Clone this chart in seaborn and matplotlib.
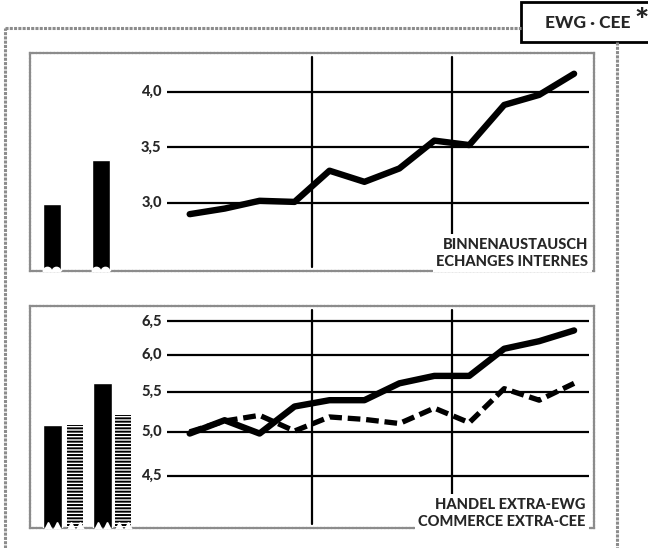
## for data
import numpy as np
import pandas as pd

## for plotting
import matplotlib
matplotlib.use("Agg")
import matplotlib.pyplot as plt
import seaborn as sns
from matplotlib.lines import Line2D
from matplotlib.patches import Rectangle


###############################################################################
## data (12 quarters, two annual bars before them)

quarters = np.arange(12)
internal_q = [2.90, 2.95, 3.02, 3.01, 3.29, 3.19, 3.31, 3.56, 3.52, 3.88, 3.97, 4.16]
internal_years = [2.99, 3.39]

extra_solid_q = [4.98, 5.14, 4.98, 5.31, 5.39, 5.39, 5.61, 5.71, 5.71, 6.09, 6.20, 6.36]
extra_dashed_q = [5.00, 5.13, 5.20, 5.01, 5.18, 5.15, 5.10, 5.29, 5.11, 5.54, 5.39, 5.61]
extra_solid_years = [5.08, 5.62]
extra_hatch_years = [5.08, 5.20]

top_ticks = [3.0, 3.5, 4.0]
bottom_ticks = [4.5, 5.0, 5.5, 6.0, 6.5]

top_title = ["BINNENAUSTAUSCH", "ECHANGES INTERNES"]
bottom_title = ["HANDEL EXTRA-EWG", "COMMERCE EXTRA-CEE"]
badge = "EWG · CEE"


###############################################################################

sns.set_style("white")
plt.rcParams["font.family"] = ["Lato", "DejaVu Sans"]
plt.rcParams["hatch.linewidth"] = 1.4

W, H = 648, 548
fig = plt.figure(figsize=(W / 100, H / 100), dpi=100)

XLIM = (-4.57, 11.57)
GRID_X = (-0.66, 11.43)
FRAME = "#8c8c8c"
WHITE_BOX = dict(facecolor="white", edgecolor="none", pad=2.5)


def fig_box(x0, y0, x1, y1):
    # pixel box (top-left origin) -> figure fraction rect
    return [x0 / W, 1 - y1 / H, (x1 - x0) / W, (y1 - y0) / H]


def style_panel(ax, ticks, ylim, log=False):
    if log:
        ax.set_yscale("log")
    ax.set_xlim(*XLIM)
    ax.set_ylim(*ylim)
    ax.set_xticks([])
    ax.set_yticks([])
    ax.minorticks_off()
    for s in ax.spines.values():
        s.set_visible(True)
        s.set_color(FRAME)
        s.set_linestyle((0, (1, 0.6)))
        s.set_linewidth(1.6)
    ax.hlines(ticks, *GRID_X, color="black", lw=1.6, zorder=1)
    for v in (3.5, 7.5):
        ax.axvline(v, ymin=0.02, ymax=0.98, color="black", lw=1.6, zorder=1)
    for t in ticks:
        ax.text(-0.8, t, f"{t:.1f}".replace(".", ","), ha="right", va="center",
                fontsize=10.5, fontweight="black")


def notches(ax, xs, width, base, marker, size):
    xs = np.asarray(xs)
    nx = np.concatenate([xs - width / 4, xs + width / 4])
    ax.plot(nx, [base] * len(nx), ls="none", marker=marker, ms=size,
            color="white", mec="white", zorder=4, clip_on=True)


def panel_title(ax, lines, y0, step, x=0.99):
    for i, s in enumerate(lines):
        ax.text(x, y0 - i * step, s, transform=ax.transAxes, ha="right",
                va="center", fontsize=10.5, fontweight="black",
                bbox=WHITE_BOX, zorder=5)


## top panel: internal trade
ax1 = fig.add_axes(fig_box(30, 53, 594, 271))
top_lim = (2.39, 4.346)
style_panel(ax1, top_ticks, top_lim)
bar_x = [-3.95, -2.55]
ax1.bar(bar_x, np.array(internal_years) - top_lim[0], bottom=top_lim[0],
        width=0.52, color="black", zorder=3)
notches(ax1, bar_x, 0.52, top_lim[0], "o", 6)
sns.lineplot(x=quarters, y=internal_q, ax=ax1, color="black", lw=4.6, zorder=3)
panel_title(ax1, top_title, 0.12, 0.078)

## bottom panel: extra-community trade (log scale)
ax2 = fig.add_axes(fig_box(30, 306, 594, 528))
bot_lim = (3.98, 6.74)
style_panel(ax2, bottom_ticks, bot_lim, log=True)
solid_x = [-3.93, -2.50]
hatch_x = [-3.27, -1.90]
ax2.bar(solid_x, np.array(extra_solid_years) - bot_lim[0], bottom=bot_lim[0],
        width=0.53, color="black", zorder=3)
ax2.bar(hatch_x, np.array(extra_hatch_years) - bot_lim[0], bottom=bot_lim[0],
        width=0.46, facecolor="white", edgecolor="black", lw=0,
        hatch="-----", zorder=3)
notches(ax2, solid_x + hatch_x, 0.5, bot_lim[0], "^", 9)
sns.lineplot(x=quarters, y=extra_solid_q, ax=ax2, color="black", lw=4.6, zorder=3)
sns.lineplot(x=quarters, y=extra_dashed_q, ax=ax2, color="black", lw=3.8,
             linestyle=(0, (2.4, 1.1)), zorder=3)
ax2.set_yscale("log")
ax2.set_ylim(*bot_lim)
ax2.minorticks_off()
ax2.set_yticks([])
panel_title(ax2, bottom_title, 0.104, 0.076, x=0.985)

## outer stippled frame and the badge
px = lambda x, y: (x / W, 1 - y / H)
for (a, b) in [((5, 548), (5, 28)), ((5, 28), (521, 28)), ((617, 42), (617, 548))]:
    (x0, y0), (x1, y1) = px(*a), px(*b)
    fig.add_artist(Line2D([x0, x1], [y0, y1], color=FRAME, lw=2.2,
                          ls=(0, (1, 0.4))))
fig.add_artist(Rectangle(px(521, 42), (140) / W, 40 / H, facecolor="white",
                         edgecolor="black", lw=2, transform=fig.transFigure))
fig.text(*px(588, 23), badge, ha="center", va="center", fontsize=12.5,
         fontweight="black")
fig.text(*px(642, 21), "*", ha="center", va="center", fontsize=24,
         fontweight="black")

fig.savefig("out.png", dpi=100)
